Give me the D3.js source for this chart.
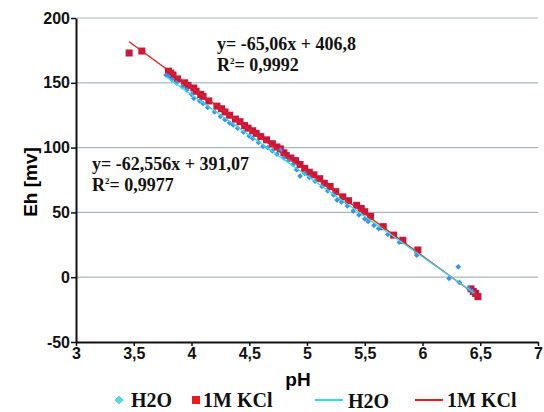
<!DOCTYPE html>
<html>
<head>
<meta charset="utf-8">
<script src="https://cdn.jsdelivr.net/npm/d3@7"></script>
<style>
  body { margin: 0; background: #fff; }
  svg { display: block; }
</style>
</head>
<body>
<div id="canva"></div>
<script>
// pH / Eh readings
const h2oPH = [3.78, 3.80, 3.83, 3.87, 3.92, 3.96, 4.00, 4.02, 4.07, 4.10, 4.14, 4.20, 4.25, 4.29, 4.33, 4.36, 4.40, 4.45, 4.50, 4.53,
  4.58, 4.62, 4.66, 4.70, 4.74, 4.77, 4.80, 4.84, 4.88, 4.91, 4.94, 4.98, 5.02, 5.07, 5.13, 5.18, 5.23, 5.26, 5.30, 5.35,
  5.40, 5.45, 5.50, 5.53, 5.58, 5.62, 5.70, 5.80, 5.95, 6.23, 6.31, 6.32, 6.40, 6.43];
const h2oEh = [156, 155, 152.5, 150, 147, 144.5, 141, 138, 136, 134, 131, 127.5, 124, 121.5, 119, 117.5, 115, 112, 109, 107,
  104, 101, 100, 97.5, 95, 98, 92, 90, 87, 83, 78, 80, 77, 74, 70, 66.5, 63.5, 59.5, 58, 55,
  51, 48, 45, 43, 40, 37.5, 33, 27, 17, -1, 8, -4, -9, -11];

const kclPH = [3.46, 3.57, 3.80, 3.82, 3.84, 3.88, 3.94, 3.97, 4.02, 4.04, 4.08, 4.10, 4.15, 4.22, 4.26, 4.29, 4.33, 4.38, 4.42, 4.46,
  4.49, 4.53, 4.56, 4.60, 4.65, 4.70, 4.74, 4.77, 4.80, 4.82, 4.86, 4.90, 4.94, 4.98, 5.02, 5.06, 5.11, 5.15, 5.20, 5.25,
  5.31, 5.36, 5.43, 5.47, 5.50, 5.55, 5.66, 5.75, 5.83, 5.96, 6.42, 6.44, 6.46, 6.48];
const kclEh = [173, 174.5, 159, 157.5, 156, 153, 150, 148, 146, 143.5, 141, 139.5, 136, 132, 130, 127.5, 125, 122, 120, 117,
  115, 113, 111, 108.5, 106, 103, 100.5, 99, 96, 94, 92, 90, 87, 84, 81, 79, 76, 72.5, 70, 66,
  62, 59, 55.5, 53, 50.5, 47, 39, 32.5, 28.5, 21, -9, -11, -12.5, -15];

// trendlines: [slope, intercept, from pH, to pH]
const h2oFit = [-62.556, 391.07, 3.78, 6.45];
const kclFit = [-65.06, 406.8, 3.46, 6.48];

const xTicks = [3, 3.5, 4, 4.5, 5, 5.5, 6, 6.5, 7];
const yTicks = [-50, 0, 50, 100, 150, 200];

const W = 544, H = 412;
const m = { left: 76, right: 538, top: 18, bottom: 342 };

const svg = d3.select('#canva').append('svg')
  .attr('width', W).attr('height', H)
  .attr('viewBox', `0 0 ${W} ${H}`);

const x = d3.scaleLinear().domain([3, 7]).range([m.left, m.right]);
const y = d3.scaleLinear().domain([-50, 200]).range([m.bottom, m.top]);
const fmt = d => String(d).replace('.', ',');

// gridlines
svg.append('g')
  .selectAll('line')
  .data(yTicks.filter(d => d > -50))
  .enter().append('line')
  .attr('x1', m.left).attr('x2', m.right)
  .attr('y1', d => y(d)).attr('y2', d => y(d))
  .attr('stroke', '#a9b9c2').attr('stroke-width', 1.2);

// axes
const xAxis = svg.append('g')
  .attr('transform', `translate(0,${m.bottom})`)
  .call(d3.axisBottom(x).tickValues(xTicks).tickFormat(fmt).tickSize(4).tickPadding(1).tickSizeOuter(0));
const yAxis = svg.append('g')
  .attr('transform', `translate(${m.left},0)`)
  .call(d3.axisLeft(y).tickValues(yTicks).tickFormat(fmt).tickSize(5).tickPadding(1).tickSizeOuter(0));

[xAxis, yAxis].forEach(a => {
  a.attr('font-family', null).attr('font-size', null);
  a.select('.domain').attr('stroke', '#111').attr('stroke-width', 2);
  a.selectAll('.tick line').attr('stroke', '#111').attr('stroke-width', 1.5);
  a.selectAll('text')
    .attr('fill', '#111')
    .style('font-family', '"Liberation Sans", Arial, sans-serif')
    .style('font-weight', '700')
    .style('font-size', '16px');
});
xAxis.selectAll('text').attr('dy', '0.72em');

// axis titles
svg.append('text')
  .attr('x', 298).attr('y', 386)
  .attr('text-anchor', 'middle')
  .style('font-family', '"Liberation Sans", Arial, sans-serif')
  .style('font-weight', '700').style('font-size', '19px')
  .text('pH');
svg.append('text')
  .attr('transform', 'translate(37,182) rotate(-90)')
  .attr('text-anchor', 'middle')
  .style('font-family', '"Liberation Sans", Arial, sans-serif')
  .style('font-weight', '700').style('font-size', '19px')
  .text('Eh [mv]');

// points
const h2o = h2oPH.map((p, i) => ({ p, e: h2oEh[i] }));
const kcl = kclPH.map((p, i) => ({ p, e: kclEh[i] }));

svg.append('g').selectAll('rect')
  .data(kcl).enter().append('rect')
  .attr('x', d => x(d.p) - 3.5).attr('y', d => y(d.e) - 3.5)
  .attr('width', 7).attr('height', 7)
  .attr('fill', '#c8163c');

svg.append('g').selectAll('path')
  .data(h2o).enter().append('path')
  .attr('d', d3.symbol(d3.symbolSquare, 16))
  .attr('transform', d => `translate(${x(d.p)},${y(d.e)}) rotate(45)`)
  .attr('fill', '#3a92ea');

// fit lines
function fitLine(f, color) {
  svg.append('line')
    .attr('x1', x(f[2])).attr('y1', y(f[0] * f[2] + f[1]))
    .attr('x2', x(f[3])).attr('y2', y(f[0] * f[3] + f[1]))
    .attr('stroke', color).attr('stroke-width', 1.3);
}
fitLine(kclFit, '#e8201c');
fitLine(h2oFit, '#28e0e8');

// equations
function eq(tx, ty, line1, r2) {
  const g = svg.append('g')
    .style('font-family', '"Liberation Serif", "Times New Roman", serif')
    .style('font-weight', '700').style('font-size', '18px')
    .attr('fill', '#111');
  g.append('text').attr('x', tx).attr('y', ty).text(line1);
  const t = g.append('text').attr('x', tx).attr('y', ty + 21);
  t.append('tspan').text('R');
  t.append('tspan').attr('dy', -7).style('font-size', '9px').text('2');
  t.append('tspan').attr('dy', 7).text('= ' + r2);
}
eq(217, 50, 'y= -65,06x + 406,8', '0,9992');
eq(92, 170, 'y= -62,556x + 391,07', '0,9977');

// legend
const lg = svg.append('g')
  .style('font-family', '"Liberation Serif", "Times New Roman", serif')
  .style('font-weight', '700').style('font-size', '20px')
  .attr('fill', '#111');
const ly = 407;
lg.append('path')
  .attr('d', d3.symbol(d3.symbolSquare, 30))
  .attr('transform', `translate(119,${ly - 7}) rotate(45)`)
  .attr('fill', '#40e2f0').attr('stroke', '#5a9ab0').attr('stroke-width', 0.6);
lg.append('text').attr('x', 131).attr('y', ly).text('H2O');
lg.append('rect').attr('x', 192).attr('y', ly - 11).attr('width', 8).attr('height', 8).attr('fill', '#e41c1c');
lg.append('text').attr('x', 203).attr('y', ly).text('1M KCl');
lg.append('line').attr('x1', 315).attr('x2', 343).attr('y1', ly - 7).attr('y2', ly - 7)
  .attr('stroke', '#28e0e8').attr('stroke-width', 2);
lg.append('text').attr('x', 348).attr('y', ly + 1).text('H2O');
lg.append('line').attr('x1', 415).attr('x2', 443).attr('y1', ly - 7).attr('y2', ly - 7)
  .attr('stroke', '#e8201c').attr('stroke-width', 2);
lg.append('text').attr('x', 447).attr('y', ly).text('1M KCl');
</script>
</body>
</html>
